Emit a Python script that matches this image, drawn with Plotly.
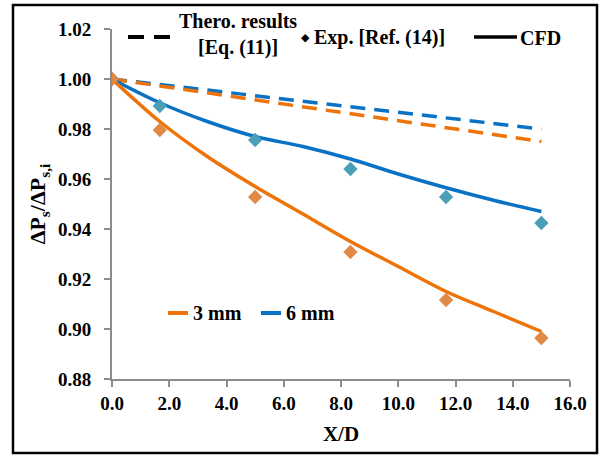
import plotly.graph_objects as go

# ---- data ----
x_exp = [0.0, 1.67, 5.0, 8.33, 11.67, 15.0]
exp_3mm = [1.0, 0.9796, 0.9528, 0.9308, 0.9116, 0.8964]
exp_6mm = [1.0, 0.9892, 0.9756, 0.9640, 0.9528, 0.9424]

x_cfd = [0.0, 1.67, 3.33, 5.0, 6.67, 8.33, 10.0, 11.67, 13.33, 15.0]
cfd_3mm = [1.0, 0.983, 0.969, 0.957, 0.946, 0.935, 0.925, 0.915, 0.907, 0.899]
cfd_6mm = [1.0, 0.9905, 0.983, 0.977, 0.973, 0.968, 0.962, 0.9565, 0.9515, 0.947]

x_theo = [0.0, 3.0, 6.0, 9.0, 12.0, 15.0]
theo_3mm = [1.0, 0.995, 0.990, 0.985, 0.980, 0.975]
theo_6mm = [1.0, 0.996, 0.992, 0.988, 0.984, 0.980]

x_ticks = [0, 2, 4, 6, 8, 10, 12, 14, 16]
y_ticks = [0.88, 0.90, 0.92, 0.94, 0.96, 0.98, 1.00, 1.02]

ORANGE = "#EE7308"
BLUE = "#0A72C4"
ORANGE_PT = "#E08A48"
BLUE_PT = "#4A9FB6"
FONT = "Liberation Serif"
W, H = 601, 456
L, R, T, B = 112, 31, 29, 77
PW, PH = W - L - R, H - T - B


def px(x):
    return (x - L) / PW


def py(y):
    return (H - B - y) / PH


fig = go.Figure()
fig.add_trace(go.Scatter(x=x_theo, y=theo_6mm, mode="lines",
                         line=dict(color=BLUE, width=3.5, dash="15px,9px"), showlegend=False))
fig.add_trace(go.Scatter(x=x_theo, y=theo_3mm, mode="lines",
                         line=dict(color=ORANGE, width=3.5, dash="15px,9px"), showlegend=False))
fig.add_trace(go.Scatter(x=x_cfd, y=cfd_6mm, mode="lines", line_shape="spline",
                         line=dict(color=BLUE, width=3.5), showlegend=False))
fig.add_trace(go.Scatter(x=x_cfd, y=cfd_3mm, mode="lines", line_shape="spline",
                         line=dict(color=ORANGE, width=3.5), showlegend=False))
fig.add_trace(go.Scatter(x=x_exp, y=exp_6mm, mode="markers",
                         marker=dict(symbol="diamond", size=11, color=BLUE_PT), showlegend=False))
fig.add_trace(go.Scatter(x=x_exp, y=exp_3mm, mode="markers",
                         marker=dict(symbol="diamond", size=11, color=ORANGE_PT), showlegend=False))

axis_common = dict(showgrid=False, zeroline=False, showline=True, linecolor="#8C8C8C",
                   linewidth=2, ticks="outside", tickcolor="#8C8C8C", ticklen=6, tickwidth=2,
                   tickfont=dict(family=FONT, size=19, color="black", weight="bold"))

fig.update_xaxes(range=[0, 16], tickvals=x_ticks, tickformat=".1f",
                 title=dict(text="<b>X/D</b>", font=dict(family=FONT, size=21, color="black"), standoff=14),
                 ticklabelstandoff=0, **axis_common)
fig.update_yaxes(range=[0.88, 1.02], tickvals=y_ticks, tickformat=".2f",
                 title=dict(text="<b>ΔP<sub>s</sub>/ΔP<sub>s,i</sub></b>",
                            font=dict(family=FONT, size=22, color="black"), standoff=6),
                 ticklabelstandoff=9, **axis_common)

shapes = []
annotations = []
# outer frame
shapes.append(dict(type="rect", xref="paper", yref="paper", x0=px(13), x1=px(597), y0=py(453), y1=py(5),
                   line=dict(color="black", width=2.5), fillcolor="rgba(0,0,0,0)"))
# top legend
shapes.append(dict(type="line", xref="paper", yref="paper", x0=px(128), x1=px(170), y0=py(37), y1=py(37),
                   line=dict(color="black", width=4, dash="16px,10px")))
shapes.append(dict(type="line", xref="paper", yref="paper", x0=px(474), x1=px(517), y0=py(37), y1=py(37),
                   line=dict(color="black", width=3.5)))
lfont = dict(family=FONT, size=20, color="black")
annotations.append(dict(xref="paper", yref="paper", x=px(238), y=py(35), text="<b>Thero. results<br>[Eq. (11)]</b>",
                        showarrow=False, font=lfont, xanchor="center", yanchor="middle", align="center"))
annotations.append(dict(xref="paper", yref="paper", x=px(305), y=py(38), text="◆",
                        showarrow=False, font=dict(family="DejaVu Sans", size=11, color="black"),
                        xanchor="center", yanchor="middle"))
annotations.append(dict(xref="paper", yref="paper", x=px(312), y=py(38), text="<b>Exp. [Ref. (14)]</b>",
                        showarrow=False, font=lfont, xanchor="left", yanchor="middle"))
annotations.append(dict(xref="paper", yref="paper", x=px(518), y=py(38), text="<b>CFD</b>",
                        showarrow=False, font=lfont, xanchor="left", yanchor="middle"))
# size legend
shapes.append(dict(type="line", xref="paper", yref="paper", x0=px(168), x1=px(188), y0=py(313), y1=py(313),
                   line=dict(color=ORANGE, width=4)))
shapes.append(dict(type="line", xref="paper", yref="paper", x0=px(261), x1=px(281), y0=py(313), y1=py(313),
                   line=dict(color=BLUE, width=4)))
annotations.append(dict(xref="paper", yref="paper", x=px(191), y=py(313), text="<b>3 mm</b>",
                        showarrow=False, font=lfont, xanchor="left", yanchor="middle"))
annotations.append(dict(xref="paper", yref="paper", x=px(284), y=py(313), text="<b>6 mm</b>",
                        showarrow=False, font=lfont, xanchor="left", yanchor="middle"))

fig.update_layout(width=W, height=H, margin=dict(l=L, r=R, t=T, b=B),
                  paper_bgcolor="white", plot_bgcolor="white",
                  shapes=shapes, annotations=annotations, showlegend=False)

fig.write_html("out.html")
